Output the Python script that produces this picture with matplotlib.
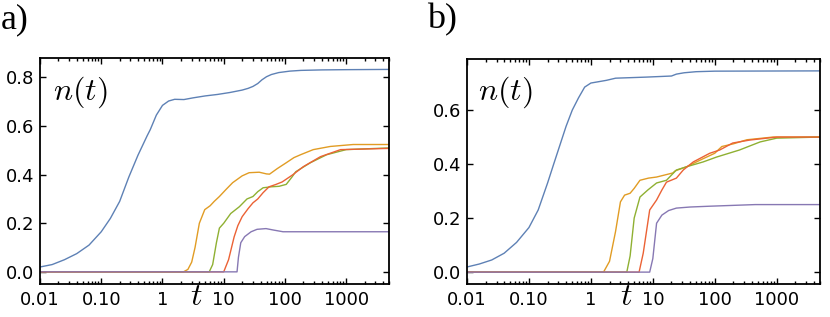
import numpy as np
import matplotlib
matplotlib.use("Agg")
import matplotlib.pyplot as plt
from matplotlib.ticker import LogLocator, NullFormatter

plt.rcParams['font.family'] = ['DejaVu Sans']
plt.rcParams['mathtext.fontset'] = 'cm'

# colours (Mathematica default palette)
c_blue, c_orange, c_green, c_red, c_purple = '#5E81B5', '#E19C24', '#8FB032', '#EB6235', '#8778B3'

xticks = [0.01, 0.1, 1, 10, 100, 1000]
xticklabels = ['0.01', '0.10', '1', '10', '100', '1000']

# ---- panel a) ----
a_blue_t = [0.01, 0.0158, 0.0251, 0.0398, 0.0631, 0.1, 0.141, 0.2, 0.282, 0.398, 0.562, 0.631, 0.794, 1.0, 1.26, 1.58,
            2.24, 3.16, 5.0, 7.9, 12.6, 20, 25, 30, 36, 42, 50, 60, 79, 120, 182, 400, 1000, 5000]
a_blue_n = [0.02, 0.03, 0.05, 0.075, 0.11, 0.165, 0.22, 0.29, 0.39, 0.48, 0.56, 0.585, 0.645, 0.685, 0.703, 0.71,
            0.709, 0.716, 0.724, 0.73, 0.738, 0.748, 0.755, 0.763, 0.775, 0.79, 0.803, 0.812, 0.82, 0.826, 0.829, 0.831, 0.832, 0.833]

a_orange_t = [0.01, 2.2, 2.6, 3.0, 3.4, 4.0, 4.9, 6.0, 7.0, 8.5, 11, 14, 20, 26, 38, 50, 56, 75, 105, 140, 180, 290, 550, 1300, 5000]
a_orange_n = [0, 0, 0.01, 0.04, 0.10, 0.20, 0.256, 0.272, 0.29, 0.31, 0.34, 0.367, 0.395, 0.408, 0.41, 0.403, 0.402, 0.425, 0.449, 0.47, 0.482, 0.503, 0.516, 0.524, 0.524]

a_green_t = [0.01, 5.8, 6.6, 7.6, 8.5, 10, 13, 18, 24, 30, 36, 44, 60, 80, 105, 130, 150, 260, 480, 1000, 5000]
a_green_n = [0, 0, 0.03, 0.12, 0.18, 0.20, 0.24, 0.268, 0.30, 0.31, 0.33, 0.346, 0.35, 0.352, 0.36, 0.39, 0.412, 0.449, 0.482, 0.503, 0.51]

a_red_t = [0.01, 10, 12, 14.8, 17, 20, 25, 30, 36, 44, 55, 70, 90, 135, 200, 380, 810, 5000]
a_red_n = [0, 0, 0.05, 0.144, 0.19, 0.227, 0.26, 0.284, 0.30, 0.326, 0.35, 0.359, 0.37, 0.40, 0.433, 0.474, 0.503, 0.508]

a_purple_t = [0.01, 16.5, 17.4, 19, 22, 28, 35, 49, 65, 93, 5000]
a_purple_n = [0, 0, 0.06, 0.12, 0.145, 0.165, 0.175, 0.178, 0.172, 0.165, 0.165]

# ---- panel b) ----
b_blue_t = [0.01, 0.0158, 0.0251, 0.0398, 0.0631, 0.1, 0.141, 0.2, 0.251, 0.316, 0.398, 0.501, 0.631, 0.794, 1.0, 1.26,
            1.78, 2.51, 7.9, 20, 24, 32, 50, 100, 5000]
b_blue_n = [0.019, 0.03, 0.045, 0.07, 0.11, 0.165, 0.23, 0.33, 0.40, 0.47, 0.54, 0.60, 0.645, 0.685, 0.70, 0.704,
            0.71, 0.718, 0.722, 0.726, 0.733, 0.738, 0.742, 0.744, 0.745]

b_orange_t = [0.01, 1.6, 2.0, 2.5, 3.0, 3.5, 4.3, 5.0, 6.2, 8.5, 11.5, 21, 23, 35, 65, 100, 130, 200, 330, 870, 5000]
b_orange_n = [0, 0, 0.04, 0.15, 0.26, 0.285, 0.292, 0.31, 0.34, 0.348, 0.352, 0.367, 0.375, 0.39, 0.42, 0.44, 0.465, 0.475, 0.49, 0.50, 0.50]

b_green_t = [0.01, 3.8, 4.3, 5.0, 6.2, 8.3, 11.5, 16.6, 24, 35, 65, 107, 250, 540, 1000, 5000]
b_green_n = [0, 0, 0.06, 0.20, 0.278, 0.304, 0.33, 0.34, 0.378, 0.39, 0.408, 0.426, 0.452, 0.482, 0.496, 0.50]

b_red_t = [0.01, 6.0, 7.0, 8.9, 11.5, 14, 16.6, 24, 31, 45, 83, 120, 195, 370, 1000, 5000]
b_red_n = [0, 0, 0.07, 0.23, 0.267, 0.304, 0.333, 0.348, 0.378, 0.408, 0.44, 0.452, 0.478, 0.489, 0.50, 0.50]

b_purple_t = [0.01, 8.9, 10, 11.5, 14, 18, 24, 40, 83, 450, 5000]
b_purple_n = [0, 0, 0.05, 0.181, 0.211, 0.228, 0.237, 0.241, 0.244, 0.25, 0.25]

panels = [
    dict(rect=[40/830, 1-284/317, 349/830, 226/317], ylim=(-0.05, 0.88),
         yticks=[0.0, 0.2, 0.4, 0.6, 0.8], letter='a)', letter_x=1/830, t_x=196/830, nt_x=53/830,
         curves=[(a_blue_t, a_blue_n, c_blue), (a_orange_t, a_orange_n, c_orange),
                 (a_green_t, a_green_n, c_green), (a_red_t, a_red_n, c_red),
                 (a_purple_t, a_purple_n, c_purple)]),
    dict(rect=[467/830, 1-284/317, 353/830, 225/317], ylim=(-0.044, 0.789),
         yticks=[0.0, 0.2, 0.4, 0.6], letter='b)', letter_x=427/830, t_x=626/830, nt_x=478/830,
         curves=[(b_blue_t, b_blue_n, c_blue), (b_orange_t, b_orange_n, c_orange),
                 (b_green_t, b_green_n, c_green), (b_red_t, b_red_n, c_red),
                 (b_purple_t, b_purple_n, c_purple)]),
]

fig = plt.figure(figsize=(8.3, 3.17), dpi=100)

for p in panels:
    ax = fig.add_axes(p['rect'])
    for t, n, c in p['curves']:
        ax.plot(t, n, color=c, lw=1.0)
    ax.set_xscale('log')
    ax.set_xlim(0.01, 5000)
    ax.set_ylim(*p['ylim'])
    ax.set_xticks(xticks, xticklabels)
    ax.xaxis.set_minor_locator(LogLocator(base=10, subs=np.arange(2, 10), numticks=20))
    ax.xaxis.set_minor_formatter(NullFormatter())
    ax.set_yticks(p['yticks'], ['%.1f' % v for v in p['yticks']])
    ax.tick_params(which='both', direction='in', top=True, right=True, width=1.0, labelsize=13)
    ax.tick_params(which='major', length=4)
    ax.tick_params(which='minor', length=2)
    ax.tick_params(axis='x', pad=5)
    ax.tick_params(axis='y', pad=4)
    for s in ax.spines.values():
        s.set_linewidth(1.3)
    fig.text(p['nt_x'], 1-75/317, r'$n(t)$', fontsize=23, ha='left', va='top')
    fig.text(p['t_x'], 1-312/317, r'$t$', fontsize=23, ha='center', va='bottom')
    fig.text(p['letter_x'], 1-3/317, p['letter'], family='Liberation Serif', fontsize=26, ha='left', va='top')

fig.savefig('out.png', dpi=100)
